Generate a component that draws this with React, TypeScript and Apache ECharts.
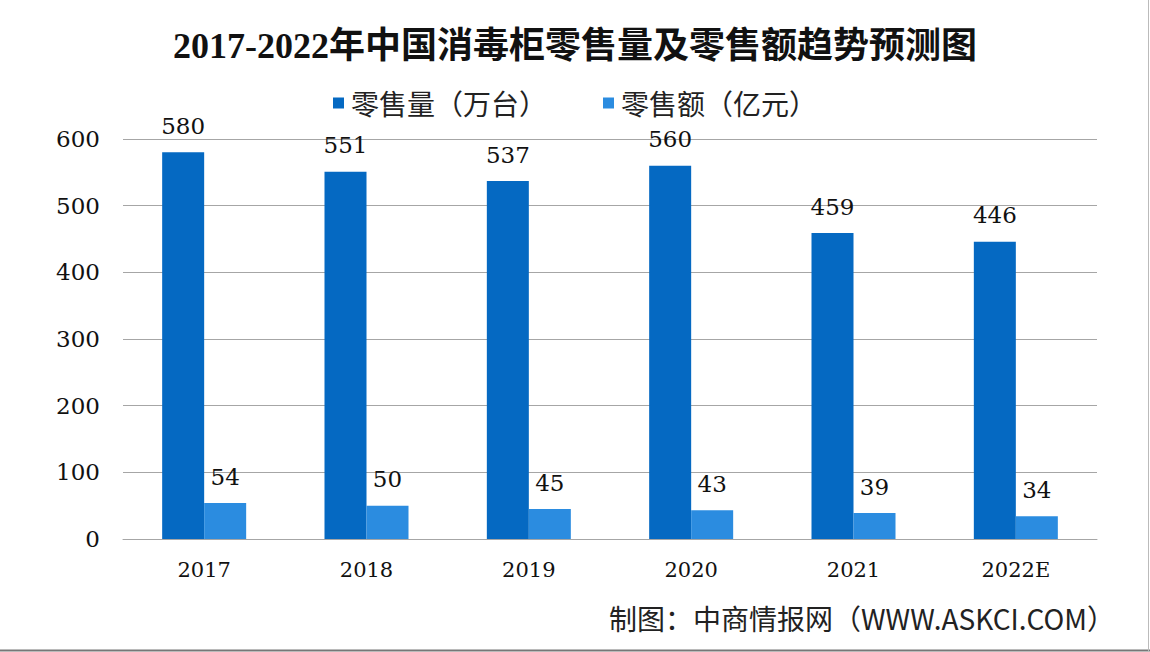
import React, { useEffect, useRef } from "react";
import * as echarts from "echarts";

const categories = ["2017", "2018", "2019", "2020", "2021", "2022E"];
const salesVolume = [580, 551, 537, 560, 459, 446];
const salesValue = [54, 50, 45, 43, 39, 34];
const yTicks = { min: 0, max: 600, interval: 100 };
const titleText = "2017-2022年中国消毒柜零售量及零售额趋势预测图";
const seriesNames = ["零售量（万台）", "零售额（亿元）"];
const footerText = "制图：中商情报网（WWW.ASKCI.COM）";

export default function App() {
  const ref = useRef<HTMLDivElement>(null);
  useEffect(() => {
    if (!ref.current) return;
    const chart = echarts.init(ref.current, null, { renderer: "svg" });
    const labelStyle = {
      show: true,
      position: "top" as const,
      distance: 15,
      fontFamily: "DejaVu Serif",
      fontSize: 23,
      color: "#111",
    };
    chart.setOption({
      animation: false,
      backgroundColor: "#ffffff",
      title: {
        text: titleText,
        left: "center",
        top: 23,
        textStyle: {
          fontFamily: "Liberation Serif, Noto Sans CJK SC",
          fontWeight: "bold",
          fontSize: 36,
          color: "#111",
        },
      },
      legend: {
        top: 84,
        left: "center",
        padding: 5,
        itemWidth: 11,
        itemHeight: 11,
        itemGap: 56,
        icon: "rect",
        textStyle: {
          fontFamily: "Noto Sans CJK SC",
          fontSize: 28,
          lineHeight: 28,
          color: "#222",
          padding: [0, 0, 0, 2],
        },
        data: seriesNames,
      },
      grid: { left: 123, right: 53, top: 139, bottom: 113 },
      xAxis: {
        type: "category",
        data: categories,
        axisTick: { show: false },
        axisLine: { lineStyle: { color: "#a6a6a6", width: 1 } },
        axisLabel: {
          fontFamily: "DejaVu Serif",
          fontSize: 21,
          color: "#111",
          margin: 20,
        },
      },
      yAxis: {
        type: "value",
        min: yTicks.min,
        max: yTicks.max,
        interval: yTicks.interval,
        axisLine: { show: false },
        axisTick: { show: false },
        splitLine: { lineStyle: { color: "#a6a6a6", width: 1 } },
        axisLabel: {
          fontFamily: "DejaVu Serif",
          fontSize: 23,
          color: "#111",
          margin: 23,
        },
      },
      series: [
        {
          name: seriesNames[0],
          type: "bar",
          data: salesVolume,
          barWidth: 42,
          barGap: "0%",
          itemStyle: { color: "#0569c2" },
          label: labelStyle,
        },
        {
          name: seriesNames[1],
          type: "bar",
          data: salesValue,
          barWidth: 42,
          barGap: "0%",
          itemStyle: { color: "#2b8ce0" },
          label: labelStyle,
        },
      ],
      graphic: [
        {
          type: "text",
          right: 35,
          top: 604,
          style: {
            text: footerText,
            fontFamily: "Noto Sans CJK SC",
            fontSize: 28,
            fill: "#222",
          },
        },
        {
          type: "line",
          shape: { x1: 0, y1: 650.5, x2: 1150, y2: 650.5 },
          style: { stroke: "#777", lineWidth: 2 },
        },
        {
          type: "line",
          shape: { x1: 1148.5, y1: 0, x2: 1148.5, y2: 652 },
          style: { stroke: "#bbb", lineWidth: 1 },
        },
      ],
    });
    return () => chart.dispose();
  }, []);
  return (
    <div
      ref={ref}
      style={{ position: "absolute", left: 0, top: 0, width: 1150, height: 652 }}
    />
  );
}
